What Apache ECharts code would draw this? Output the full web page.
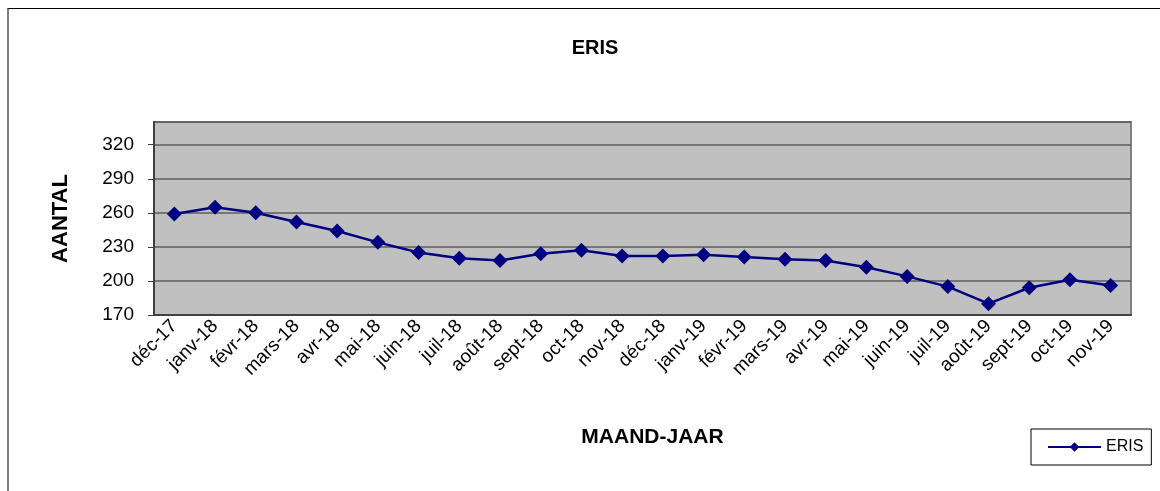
<!DOCTYPE html>
<html lang="fr">
<head>
<meta charset="UTF-8">
<title>ERIS</title>
<style>
    html, body { margin: 0; padding: 0; background: #fff; }
    #chart { width: 1160px; height: 491px; }
    .frame {
        position: absolute;
        left: 7px;
        top: 8px;
        width: 1160px;
        height: 500px;
        border-top: 1px solid #000;
        border-left: 2px solid #808080;
        pointer-events: none;
    }
</style>
</head>
<body>
<div id="chart"></div>
<div class="frame"></div>
<script src="https://cdn.jsdelivr.net/npm/echarts@6/dist/echarts.min.js"></script>
<script>
    var months = ['déc-17', 'janv-18', 'févr-18', 'mars-18', 'avr-18', 'mai-18', 'juin-18', 'juil-18',
        'août-18', 'sept-18', 'oct-18', 'nov-18', 'déc-18', 'janv-19', 'févr-19', 'mars-19',
        'avr-19', 'mai-19', 'juin-19', 'juil-19', 'août-19', 'sept-19', 'oct-19', 'nov-19'];
    var eris = [259, 265, 260, 252, 244, 234, 225, 220, 218, 224, 227, 222,
        222, 223, 221, 219, 218, 212, 204, 195, 180, 194, 201, 196];

    var font = 'Liberation Sans, Arial, sans-serif';
    var myChart = echarts.init(document.getElementById('chart'));

    myChart.setOption({
        animation: false,
        title: {
            text: 'ERIS',
            left: 590,
            top: 33,
            textAlign: 'center',
            textStyle: { fontFamily: font, fontSize: 20, fontWeight: 'bold', color: '#000' }
        },
        legend: {
            left: 1031,
            top: 429,
            data: ['ERIS'],
            borderColor: '#000',
            borderWidth: 1,
            padding: [10, 8, 10, 16],
            itemWidth: 53,
            itemHeight: 12,
            textStyle: { fontFamily: font, fontSize: 16, color: '#000' }
        },
        grid: {
            left: 154,
            top: 122,
            right: 29,
            bottom: 176,
            show: true,
            backgroundColor: '#c0c0c0',
            borderColor: '#808080',
            borderWidth: 2
        },
        xAxis: {
            type: 'category',
            data: months,
            name: 'MAAND-JAAR',
            nameLocation: 'middle',
            nameGap: 112,
            nameTextStyle: {
                fontFamily: font, fontSize: 21, fontWeight: 'bold', color: '#000',
                padding: [0, 0, 0, 20]
            },
            axisLine: { lineStyle: { color: '#404040', width: 2 } },
            axisTick: { length: 6, lineStyle: { color: '#404040', width: 1 } },
            axisLabel: {
                rotate: 45,
                interval: 0,
                margin: 8,
                fontFamily: font,
                fontSize: 19,
                color: '#000'
            }
        },
        yAxis: {
            type: 'value',
            min: 170,
            max: 340,
            interval: 30,
            name: 'AANTAL',
            nameLocation: 'middle',
            nameRotate: 90,
            nameGap: 82,
            nameTextStyle: { fontFamily: font, fontSize: 22, fontWeight: 'bold', color: '#000' },
            axisLine: { show: true, lineStyle: { color: '#404040', width: 2 } },
            axisTick: { show: true, length: 6, lineStyle: { color: '#404040', width: 1 } },
            axisLabel: {
                margin: 20,
                showMaxLabel: false,
                fontFamily: font,
                fontSize: 19,
                color: '#000'
            },
            splitLine: { lineStyle: { color: '#5e5e5e', width: 1.5 } }
        },
        series: [{
            name: 'ERIS',
            type: 'line',
            data: eris,
            symbol: 'diamond',
            symbolSize: 15,
            lineStyle: { color: '#000080', width: 2.5 },
            itemStyle: { color: '#000080' }
        }]
    });
</script>
</body>
</html>
